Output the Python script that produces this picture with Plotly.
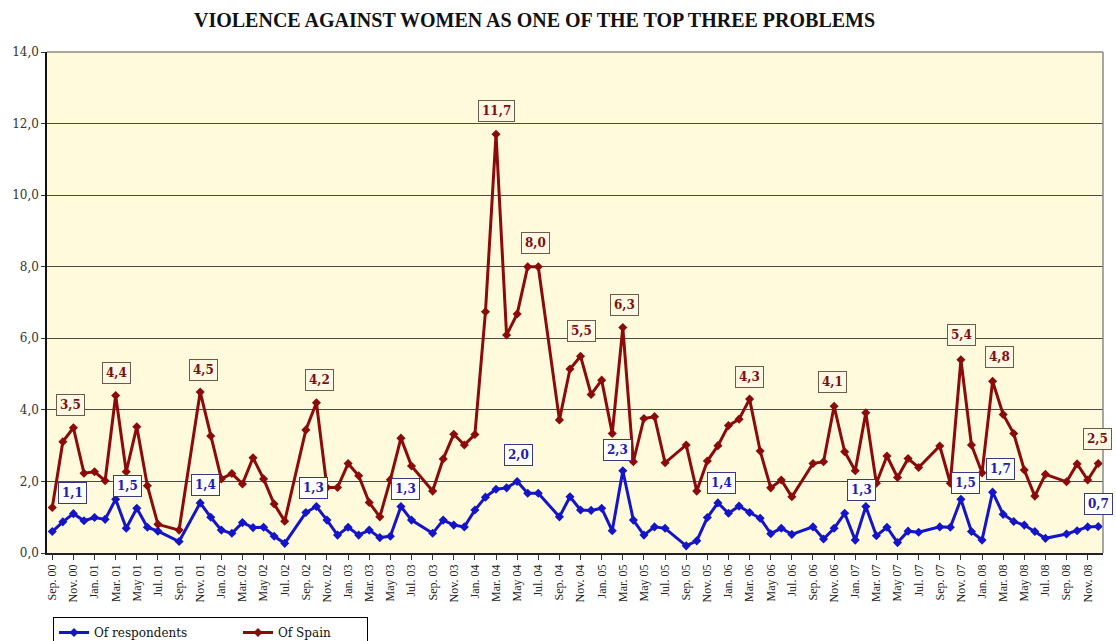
import plotly.graph_objects as go

months = [
    "Sep. 00", "Oct. 00", "Nov. 00", "Dec. 00",
    "Jan. 01", "Feb. 01", "Mar. 01", "Apr. 01", "May 01", "Jun. 01", "Jul. 01", "Aug. 01", "Sep. 01", "Oct. 01", "Nov. 01", "Dec. 01",
    "Jan. 02", "Feb. 02", "Mar. 02", "Apr. 02", "May 02", "Jun. 02", "Jul. 02", "Aug. 02", "Sep. 02", "Oct. 02", "Nov. 02", "Dec. 02",
    "Jan. 03", "Feb. 03", "Mar. 03", "Apr. 03", "May 03", "Jun. 03", "Jul. 03", "Aug. 03", "Sep. 03", "Oct. 03", "Nov. 03", "Dec. 03",
    "Jan. 04", "Feb. 04", "Mar. 04", "Apr. 04", "May 04", "Jun. 04", "Jul. 04", "Aug. 04", "Sep. 04", "Oct. 04", "Nov. 04", "Dec. 04",
    "Jan. 05", "Feb. 05", "Mar. 05", "Apr. 05", "May 05", "Jun. 05", "Jul. 05", "Aug. 05", "Sep. 05", "Oct. 05", "Nov. 05", "Dec. 05",
    "Jan. 06", "Feb. 06", "Mar. 06", "Apr. 06", "May 06", "Jun. 06", "Jul. 06", "Aug. 06", "Sep. 06", "Oct. 06", "Nov. 06", "Dec. 06",
    "Jan. 07", "Feb. 07", "Mar. 07", "Apr. 07", "May 07", "Jun. 07", "Jul. 07", "Aug. 07", "Sep. 07", "Oct. 07", "Nov. 07", "Dec. 07",
    "Jan. 08", "Feb. 08", "Mar. 08", "Apr. 08", "May 08", "Jun. 08", "Jul. 08", "Aug. 08", "Sep. 08", "Oct. 08", "Nov. 08", "Dec. 08",
]

of_spain = [
    1.27, 3.11, 3.50, 2.23,
    2.27, 2.02, 4.40, 2.27, 3.53, 1.88, 0.80, None, 0.64, None, 4.50, 3.27,
    2.07, 2.22, 1.93, 2.66, 2.07, 1.37, 0.89, None, 3.44, 4.20, 1.83, 1.83,
    2.50, 2.16, 1.41, 1.01, 2.05, 3.21, 2.43, None, 1.73, 2.63, 3.32, 3.02,
    3.31, 6.74, 11.70, 6.09, 6.68, 8.00, 8.00, None, 3.72, 5.14, 5.50, 4.43,
    4.83, 3.34, 6.30, 2.55, 3.76, 3.81, 2.52, None, 3.02, 1.73, 2.57, 3.00,
    3.56, 3.74, 4.30, 2.85, 1.82, 2.04, 1.57, None, 2.50, 2.55, 4.10, 2.83,
    2.30, 3.92, 1.95, 2.71, 2.11, 2.64, 2.39, None, 2.99, 1.95, 5.40, 3.02,
    2.24, 4.80, 3.87, 3.34, 2.32, 1.59, 2.20, None, 1.99, 2.49, 2.04, 2.50,
]

of_respondents = [
    0.60, 0.87, 1.10, 0.90,
    0.99, 0.94, 1.50, 0.69, 1.25, 0.72, 0.61, None, 0.32, None, 1.40, 1.00,
    0.64, 0.55, 0.85, 0.71, 0.72, 0.47, 0.27, None, 1.13, 1.30, 0.92, 0.50,
    0.72, 0.50, 0.64, 0.43, 0.47, 1.30, 0.92, None, 0.55, 0.92, 0.78, 0.73,
    1.20, 1.56, 1.78, 1.82, 2.00, 1.67, 1.67, None, 1.01, 1.57, 1.20, 1.19,
    1.25, 0.62, 2.30, 0.92, 0.50, 0.73, 0.69, None, 0.20, 0.34, 0.99, 1.40,
    1.11, 1.31, 1.13, 0.97, 0.54, 0.69, 0.52, None, 0.73, 0.39, 0.69, 1.11,
    0.36, 1.30, 0.48, 0.72, 0.29, 0.61, 0.58, None, 0.73, 0.72, 1.50, 0.60,
    0.36, 1.70, 1.08, 0.88, 0.78, 0.60, 0.41, None, 0.53, 0.62, 0.73, 0.74,
]

tick_labels = [
    "Sep. 00", "Nov. 00", "Jan. 01", "Mar. 01", "May 01", "Jul. 01", "Sep. 01", "Nov. 01",
    "Jan. 02", "Mar. 02", "May 02", "Jul. 02", "Sep. 02", "Nov. 02", "Jan. 03", "Mar. 03",
    "May 03", "Jul. 03", "Sep. 03", "Nov. 03", "Jan. 04", "Mar. 04", "May 04", "Jul. 04",
    "Sep. 04", "Nov. 04", "Jan. 05", "Mar. 05", "May 05", "Jul. 05", "Sep. 05", "Nov. 05",
    "Jan. 06", "Mar. 06", "May 06", "Jul. 06", "Sep. 06", "Nov. 06", "Jan. 07", "Mar. 07",
    "May 07", "Jul. 07", "Sep. 07", "Nov. 07", "Jan. 08", "Mar. 08", "May 08", "Jul. 08",
    "Sep. 08", "Nov. 08",
]

# labelled points (month) and their label offsets in px (style)
spain_labels = ["Nov. 00", "Mar. 01", "Nov. 01", "Oct. 02", "Mar. 04", "Jul. 04", "Nov. 04",
                "Mar. 05", "Mar. 06", "Nov. 06", "Nov. 07", "Feb. 08", "Dec. 08"]
spain_offsets = [(-3, 23), (1, 23), (3, 22), (3, 23), (0, 23), (-3, 24), (1, 25),
                 (2, 23), (0, 22), (-2, 24), (1, 25), (7, 24), (-1, 25)]
resp_labels = ["Nov. 00", "Mar. 01", "Nov. 01", "Oct. 02", "Jun. 03", "May 04", "Mar. 05",
               "Dec. 05", "Feb. 07", "Nov. 07", "Feb. 08", "Dec. 08"]
resp_offsets = [(-1, 21), (12, 13), (5, 18), (-3, 18), (5, 17), (1, 26), (-5, 21),
                (4, 20), (-4, 16), (5, 16), (8, 23), (0, 23)]

BLUE = "#1414C8"
RED = "#8B0A0A"
SERIF = "DejaVu Serif"

fig = go.Figure()
fig.add_trace(go.Scatter(
    x=months, y=of_respondents, name="Of respondents" + "&nbsp;" * 12, mode="lines+markers",
    connectgaps=True, line=dict(color=BLUE, width=3),
    marker=dict(symbol="diamond", size=7, color=BLUE),
))
fig.add_trace(go.Scatter(
    x=months, y=of_spain, name="Of Spain" + "&nbsp;" * 8, mode="lines+markers",
    connectgaps=True, line=dict(color=RED, width=3),
    marker=dict(symbol="diamond", size=7, color=RED),
))


def fmt(v):
    return f"{v:.1f}".replace(".", ",")


annotations = []
for m, (dx, dy) in zip(spain_labels, spain_offsets):
    v = of_spain[months.index(m)]
    annotations.append(dict(
        x=m, y=v, xref="x", yref="y", text=f"<b>{fmt(v)}</b>", showarrow=False,
        xshift=dx, yshift=dy, font=dict(family=SERIF, size=12, color="#7A1010"),
        bgcolor="#FFF8E2", bordercolor="#6E5A4A", borderwidth=1, borderpad=3,
    ))
for m, (dx, dy) in zip(resp_labels, resp_offsets):
    v = of_respondents[months.index(m)]
    annotations.append(dict(
        x=m, y=v, xref="x", yref="y", text=f"<b>{fmt(v)}</b>", showarrow=False,
        xshift=dx, yshift=dy, font=dict(family=SERIF, size=12, color="#2020A8"),
        bgcolor="#FFFFFF", bordercolor="#3A3A80", borderwidth=1, borderpad=3,
    ))

fig.update_layout(
    width=1116, height=641,
    margin=dict(l=47, r=13, t=52, b=88, autoexpand=False),
    paper_bgcolor="white", plot_bgcolor="#FFFADC",
    separators=",.",
    title=dict(text="<b>VIOLENCE AGAINST WOMEN AS ONE OF THE TOP THREE PROBLEMS</b>",
               x=0.479, xanchor="center", xref="container",
               y=0.969, yanchor="middle", yref="container",
               font=dict(family="Liberation Serif", size=20, color="#111111")),
    showlegend=True,
    legend=dict(orientation="h", x=0.0475, xanchor="left", xref="container",
                y=0.0374, yanchor="top", yref="container",
                bgcolor="white", bordercolor="black", borderwidth=1,
                font=dict(family=SERIF, size=12, color="#111111")),
    annotations=annotations,
    xaxis=dict(
        type="category", categoryorder="array", categoryarray=months,
        range=[-0.5, 99.45], automargin=False,
        tickmode="array", tickvals=tick_labels, ticktext=tick_labels,
        tickangle=-90, ticks="outside", ticklen=5, tickcolor="#333",
        tickfont=dict(family="Liberation Serif", size=12, color="#222222"),
        showgrid=False, showline=True, linecolor="#222222", linewidth=1.5,
        zeroline=False,
    ),
    yaxis=dict(
        range=[0, 14], dtick=2, tick0=0, tickformat=".1f", automargin=False,
        ticks="outside", ticklen=4, tickcolor="#333",
        tickfont=dict(family=SERIF, size=12, color="#333333"),
        showgrid=True, gridcolor="#4A4A4A", gridwidth=1,
        showline=True, linecolor="#111111", linewidth=1.5, zeroline=False,
    ),
    shapes=[
        dict(type="line", xref="paper", yref="paper", x0=0, x1=1, y0=1, y1=1,
             line=dict(color="#8A8A8A", width=1.5)),
        dict(type="line", xref="paper", yref="paper", x0=1, x1=1, y0=0, y1=1,
             line=dict(color="#8A8A8A", width=1.5)),
    ],
)

fig.write_html(
    "out.html",
    config={"displayModeBar": False},
    post_script="document.body.style.margin='0';document.body.style.overflow='hidden';",
)
